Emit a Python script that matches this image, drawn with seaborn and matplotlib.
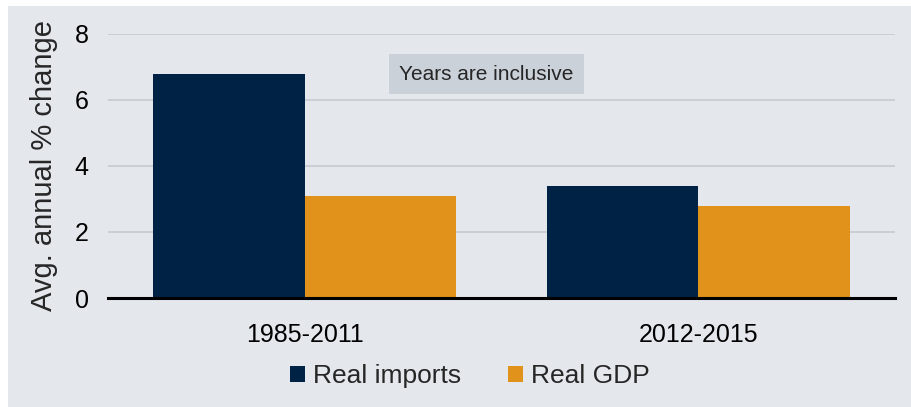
import matplotlib
matplotlib.use("Agg")
import matplotlib.pyplot as plt
import pandas as pd
import seaborn as sns
from matplotlib.patches import Rectangle

periods = ["1985-2011", "2012-2015"]
series = ["Real imports", "Real GDP"]
real_imports = [6.8, 3.4]
real_gdp = [3.1, 2.8]

df = pd.DataFrame({
    "period": periods * 2,
    "series": [series[0]] * 2 + [series[1]] * 2,
    "value": real_imports + real_gdp,
})

BG = "#e4e8ec"
sns.set_style("white")
plt.rcParams["font.family"] = ["Liberation Sans", "DejaVu Sans"]

fig = plt.figure(figsize=(9.11, 4.07), dpi=100, facecolor="white")
# grey panel, leaving a thin white strip left and top
fig.patches.append(Rectangle((8 / 911, 0), 1, (407 - 6) / 407, transform=fig.transFigure,
                             facecolor=BG, edgecolor="none", zorder=-10))
ax = fig.add_axes([108 / 911, 1 - 298 / 407, (895 - 108) / 911, (298 - 34) / 407])
ax.set_facecolor(BG)

sns.barplot(data=df, x="period", y="value", hue="series", order=periods, hue_order=series,
            palette=["#002244", "#e0921a"], width=0.77, saturation=1, linewidth=0,
            ax=ax, zorder=3)

ax.set_ylim(0, 8)
ax.set_xlim(-0.5, 1.5)
ax.set_yticks([0, 2, 4, 6, 8])
ax.grid(axis="y", color="#c6cbd1", lw=1.2, zorder=0)
for s in ["top", "right", "left"]:
    ax.spines[s].set_visible(False)
ax.spines["bottom"].set_color("black")
ax.spines["bottom"].set_linewidth(2.2)
ax.spines["bottom"].set_zorder(5)
ax.tick_params(axis="both", length=0, colors="black")
ax.tick_params(axis="x", pad=18, labelsize=18)
ax.tick_params(axis="y", pad=14, labelsize=18)
ax.set_xlabel("")
ax.set_ylabel("Avg. annual % change", fontsize=21, labelpad=12)

ax.text(0.481, 0.848, "Years are inclusive", transform=ax.transAxes, ha="center", va="center",
        fontsize=15, zorder=6,
        bbox=dict(boxstyle="square,pad=0.5", facecolor="#cbd1d9", edgecolor="none"))

leg = ax.legend(loc="upper center", bbox_to_anchor=(0.46, -0.16), ncol=2, frameon=False,
                fontsize=19, handlelength=0.55, handleheight=0.55, handletextpad=0.3,
                columnspacing=1.8)

fig.savefig("out.png", dpi=100, facecolor=fig.get_facecolor())
